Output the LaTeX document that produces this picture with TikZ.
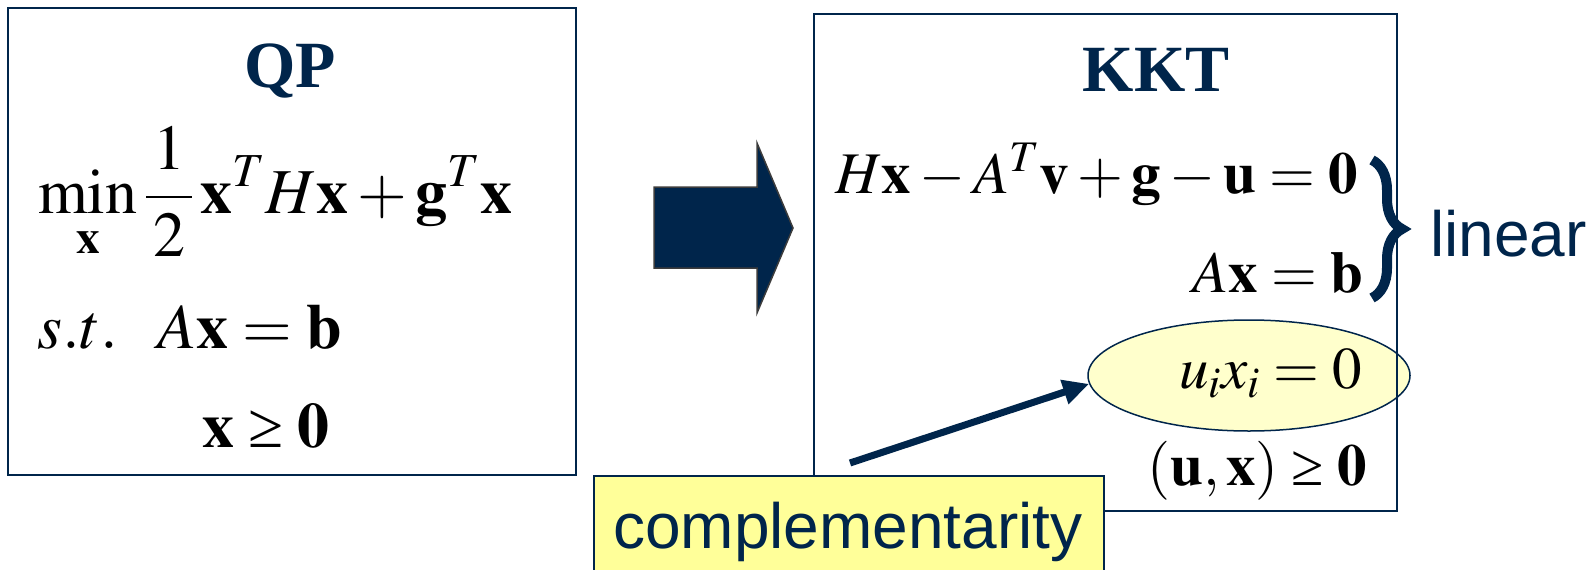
\documentclass[tikz,border=0pt]{standalone}
\usepackage{mathptmx}
\usepackage[no-math]{fontspec}
\setmainfont{Liberation Serif}
\setsansfont{Liberation Sans}
\usetikzlibrary{arrows.meta,shapes.geometric,decorations.pathreplacing}
\definecolor{navy}{RGB}{0,37,75}
\definecolor{pale}{RGB}{255,255,204}
\definecolor{hl}{RGB}{255,255,153}
\definecolor{rim}{RGB}{60,60,60}
\newcommand{\mygeq}{\mathrel{\hbox{≥}}}
\begin{document}
\begin{tikzpicture}[x=1pt,y=-1pt,
  frame/.style={draw=navy,line width=2pt,inner sep=0pt},
  ttl/.style={font=\fontsize{66}{70}\selectfont\bfseries,text=navy,inner sep=0pt,anchor=base},
  eqq/.style={font=\fontsize{64}{70}\selectfont,inner sep=0pt},
  eqk/.style={font=\fontsize{59}{66}\selectfont,inner sep=0pt,anchor=base east},
  lab/.style={font=\sffamily\fontsize{64}{70}\selectfont,text=navy,inner sep=0pt,anchor=base west}]
\useasboundingbox (0,0) rectangle (1595,570);
% left box
\node[frame,minimum width=568pt,minimum height=467pt] (qpbox) at (292,241.5) {};
\node[ttl] (qpt) at (290,87) {QP};
\node[eqq,anchor=base west] (obj) at (38,213) {$\displaystyle\min_{\rule{0pt}{30pt}\mathbf{x}}\frac{\mkern2mu1\mkern2mu}{\mkern2mu2\mkern2mu}\,\mathbf{x}^{T}H\mathbf{x}+\mathbf{g}^{T}\mathbf{x}$};
\node[eqq,anchor=base west] (st) at (37,348) {$s.t.$};
\node[eqq,anchor=base west] (c1) at (157,348) {$A\mathbf{x}=\mathbf{b}$};
\node[eqq,anchor=base west] (c2) at (202,447) {$\mathbf{x}\mygeq\mathbf{0}$};
% big arrow
\draw[fill=navy,draw=rim,line width=1.5pt] (654,187) -- (757,187) -- (757,143) -- (793,228) -- (757,313) -- (757,268) -- (654,268) -- cycle;
% ellipse
\node[ellipse,draw=navy,fill=pale,line width=1.5pt,minimum width=322pt,minimum height=111pt,inner sep=0pt] (ell) at (1249,375.5) {};
% right box
\node[frame,minimum width=583pt,minimum height=497pt] (kktbox) at (1105.5,262.5) {};
\node[ttl] (kktt) at (1156,91) {KKT};
\node[eqk] (k1) at (1358,193) {$H\mathbf{x}-A^{T}\mathbf{v}+\mathbf{g}-\mathbf{u}=\mathbf{0}$};
\node[eqk] (k2) at (1363,292) {$A\mathbf{x}=\mathbf{b}$};
\node[eqk] (k3) at (1362,388) {$u_{i\vphantom{l}}x_{i\vphantom{l}}=0$};
\node[eqk] (k4) at (1367,485) {$(\mathbf{u},\mathbf{x})\mygeq\mathbf{0}$};
% brace and label
\draw[navy,line width=10pt,decorate,decoration={brace,amplitude=30pt,aspect=0.5}] (1372,160) -- (1372,298);
\node[lab] (lin) at (1430,256) {linear};
% complementarity
\node[draw=navy,fill=hl,line width=1.5pt,minimum width=510pt,minimum height=110pt,inner sep=0pt,anchor=north west] (comp) at (593,475) {};
\node[lab] (compt) at (613,548) {complementarity};
\coordinate (cs) at (850,463);
\draw[navy,line width=7pt,-{Triangle[length=26pt,width=24pt]}] (cs) -- (ell.183);
\end{tikzpicture}
\end{document}
